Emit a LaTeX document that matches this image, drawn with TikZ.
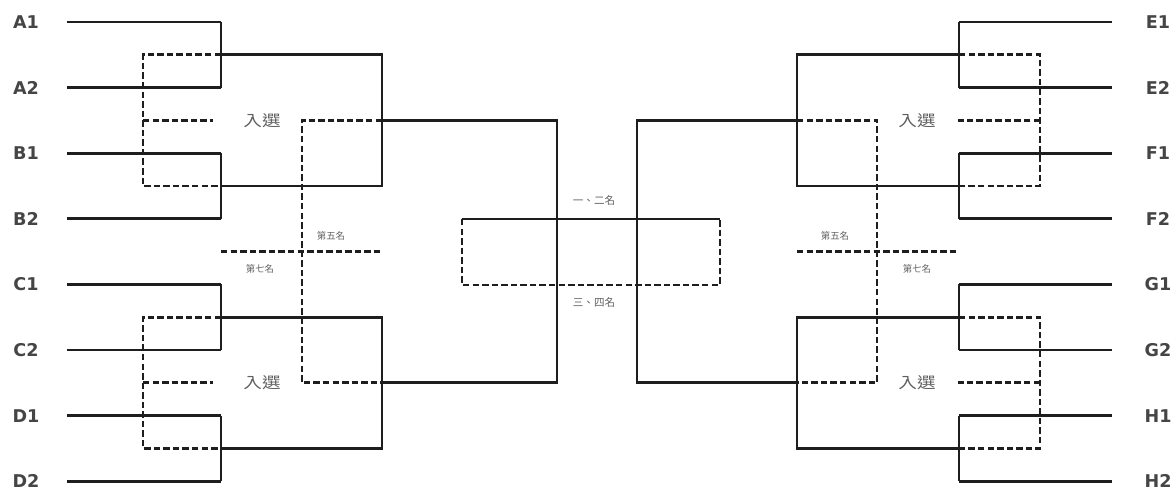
\documentclass[tikz,border=0pt]{standalone}
\usepackage{fontspec}
\newfontfamily\teamfont{DejaVu Sans}
\newfontfamily\cjkfont{Noto Sans CJK TC}
\usetikzlibrary{positioning, calc}

\begin{document}
\begin{tikzpicture}[
  x=0.025cm, y=-0.025cm,
  win/.style={draw=cline, line width=2pt},
  lose/.style={draw=cline, line width=2pt, dash pattern=on 4.6pt off 2.2pt},
  team/.style={text=cteam, font=\teamfont\bfseries\fontsize{12.5}{14}\selectfont, inner sep=0pt},
  pick/.style={text=cnote, font=\cjkfont\fontsize{11}{13}\selectfont, inner sep=1pt, xscale=1.2},
  rank/.style={text=cnote, font=\cjkfont\fontsize{6.7}{8}\selectfont, inner sep=1pt},
]
\definecolor{cline}{HTML}{1E1E1E}   % bracket lines
\definecolor{cteam}{HTML}{454545}   % team labels
\definecolor{cnote}{HTML}{606060}   % chinese notes

\useasboundingbox (0,0) rectangle (1176,491);

% -------- common bracket geometry --------
\pgfmathsetmacro{\dy}{65.6}           % row spacing of the teams in px

% columns, left to right
\coordinate (cLs)  at (67,0);
\coordinate (cLd1) at (143,0);
\coordinate (cL1)  at (221,0);
\coordinate (cLd2) at (302,0);
\coordinate (cL2)  at (382,0);
\coordinate (cBl)  at (462,0);
\coordinate (cL3)  at (557,0);
\coordinate (cR3)  at (637,0);
\coordinate (cBr)  at (720,0);
\coordinate (cR2)  at (797,0);
\coordinate (cRd2) at (877,0);
\coordinate (cR1)  at (959,0);
\coordinate (cRd1) at (1040,0);
\coordinate (cRs)  at (1112,0);

% =====================================================================
% Left half (A -- D)
% =====================================================================
\foreach \t [count=\i from 0] in {A1,A2,B1,B2,C1,C2,D1,D2} {
  \node[team] (\t) at (26,22+\i*\dy) {\t};
  \draw[win] (\t -| cLs) -- (\t -| cL1);
}
\foreach \a/\b/\m in {A1/A2/mA, B1/B2/mB, C1/C2/mC, D1/D2/mD} {
  \coordinate (\m) at ($(\a)!.5!(\b)$);
  \draw[win] (\a -| cL1) -- (\b -| cL1);
}
\coordinate (mAB) at ($(mA)!.5!(mB)$);
\coordinate (mCD) at ($(mC)!.5!(mD)$);
\coordinate (r57) at ($(B2)!.5!(C1)$);

\draw[win] (mA -| cL1) -- (mA -| cL2) -- (mB -| cL2) -- (mB -| cL1);
\draw[win] (mC -| cL1) -- (mC -| cL2) -- (mD -| cL2) -- (mD -| cL1);
\draw[win] (mAB -| cL2) -- (mAB -| cL3) -- (mCD -| cL3) -- (mCD -| cL2);

% losers, left
\draw[lose] (mA -| cL1) -- (mA -| cLd1) -- (mB -| cLd1) -- (mB -| cL1);
\draw[lose] (mC -| cL1) -- (mC -| cLd1) -- (mD -| cLd1) -- (mD -| cL1);
\draw[lose] (mAB -| cLd1) -- ++(70,0);
\draw[lose] (mCD -| cLd1) -- ++(70,0);
\draw[lose] (mAB -| cL2) -- (mAB -| cLd2) -- (mCD -| cLd2) -- (mCD -| cL2);
\draw[lose] (r57 -| cL1) -- (r57 -| cL2);

\node[pick] (pickAB) at (262,121) {入選};
\node[pick] (pickCD) at (262,383) {入選};
\node[rank] (fifthL)   at (331,236) {第五名};
\node[rank] (seventhL) at (260,269) {第七名};

% =====================================================================
% Right half (E -- H)
% =====================================================================
\foreach \t [count=\i from 0] in {E1,E2,F1,F2,G1,G2,H1,H2} {
  \node[team] (\t) at (1158,22+\i*\dy) {\t};
  \draw[win] (\t -| cR1) -- (\t -| cRs);
}
\foreach \a/\b/\m in {E1/E2/mE, F1/F2/mF, G1/G2/mG, H1/H2/mH} {
  \coordinate (\m) at ($(\a)!.5!(\b)$);
  \draw[win] (\a -| cR1) -- (\b -| cR1);
}
\coordinate (mEF) at ($(mE)!.5!(mF)$);
\coordinate (mGH) at ($(mG)!.5!(mH)$);

\draw[win] (mE -| cR1) -- (mE -| cR2) -- (mF -| cR2) -- (mF -| cR1);
\draw[win] (mG -| cR1) -- (mG -| cR2) -- (mH -| cR2) -- (mH -| cR1);
\draw[win] (mEF -| cR2) -- (mEF -| cR3) -- (mGH -| cR3) -- (mGH -| cR2);

% losers, right
\draw[lose] (mE -| cR1) -- (mE -| cRd1) -- (mF -| cRd1) -- (mF -| cR1);
\draw[lose] (mG -| cR1) -- (mG -| cRd1) -- (mH -| cRd1) -- (mH -| cR1);
\draw[lose] (mEF -| cRd1) -- ++(-82,0);
\draw[lose] (mGH -| cRd1) -- ++(-82,0);
\draw[lose] (mEF -| cR2) -- (mEF -| cRd2) -- (mGH -| cRd2) -- (mGH -| cR2);
\draw[lose] (r57 -| cR2) -- (r57 -| cR1);

\node[pick] (pickEF) at (917,121) {入選};
\node[pick] (pickGH) at (917,383) {入選};
\node[rank] (fifthR)   at (835,236) {第五名};
\node[rank] (seventhR) at (917,269) {第七名};

% =====================================================================
% Final and third place (centre)
% =====================================================================
\coordinate (r12) at (0,219);
\coordinate (r34) at (0,285);
\draw[win]  (r12 -| cBl) -- (r12 -| cBr);
\draw[lose] (r12 -| cBl) -- (r34 -| cBl) -- (r34 -| cBr) -- (r12 -| cBr);

\node[rank, font=\cjkfont\fontsize{7.5}{9}\selectfont] (first)  at (594,200) {一、二名};
\node[rank, font=\cjkfont\fontsize{7.5}{9}\selectfont] (third)  at (594,302) {三、四名};

\end{tikzpicture}
\end{document}
